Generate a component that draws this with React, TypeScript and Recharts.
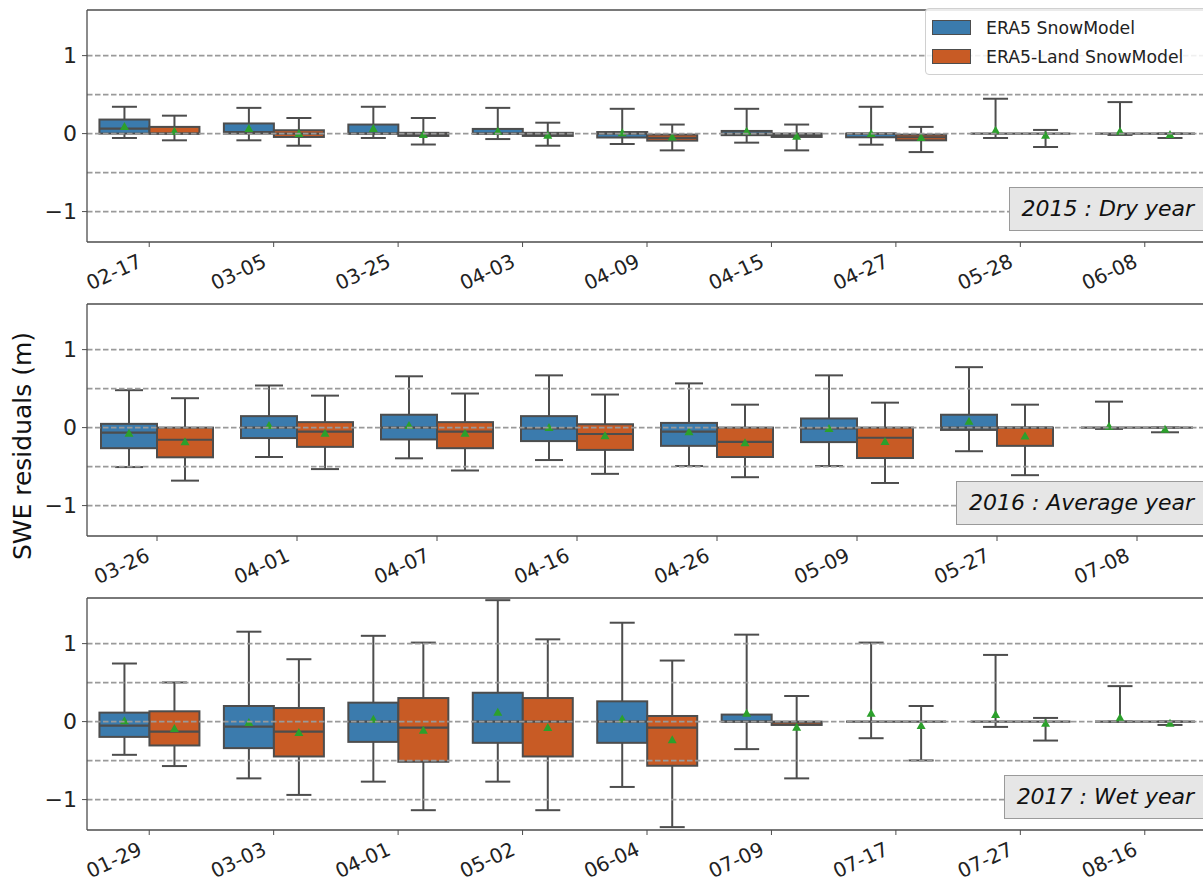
import React from 'react';
import { ComposedChart, Bar, XAxis, YAxis, ReferenceLine } from 'recharts';

// each entry: [whisker low, q1, median, q3, whisker high, mean]
type Stats = [number, number, number, number, number, number];

const seriesNames = ['ERA5 SnowModel', 'ERA5-Land SnowModel'];

const dates2015 = ['02-17', '03-05', '03-25', '04-03', '04-09', '04-15', '04-27', '05-28', '06-08'];
const era5_2015: Stats[] = [
  [-0.056, 0, 0.065, 0.18, 0.344, 0.09],
  [-0.086, 0, 0.02, 0.13, 0.33, 0.065],
  [-0.056, 0, 0, 0.116, 0.344, 0.065],
  [-0.07, 0, 0, 0.06, 0.33, 0.03],
  [-0.133, -0.05, 0, 0.02, 0.318, 0.01],
  [-0.116, -0.02, 0, 0.034, 0.318, 0.03],
  [-0.142, -0.047, 0, 0, 0.344, 0.0],
  [-0.056, 0, 0, 0, 0.447, 0.043],
  [-0.017, 0, 0, 0, 0.404, 0.03],
];
const land_2015: Stats[] = [
  [-0.086, 0, 0, 0.086, 0.23, 0.03],
  [-0.155, -0.043, 0, 0.043, 0.2, 0.0],
  [-0.14, -0.03, -0.01, 0.01, 0.2, -0.01],
  [-0.155, -0.03, -0.01, 0.01, 0.14, -0.02],
  [-0.215, -0.09, -0.056, -0.013, 0.116, -0.043],
  [-0.215, -0.043, -0.017, 0, 0.116, -0.034],
  [-0.237, -0.086, -0.047, -0.013, 0.086, -0.05],
  [-0.172, 0, 0, 0, 0.047, -0.02],
  [-0.056, 0, 0, 0, 0, -0.013],
];

const dates2016 = ['03-26', '04-01', '04-07', '04-16', '04-26', '05-09', '05-27', '07-08'];
const era5_2016: Stats[] = [
  [-0.506, -0.264, -0.065, 0.048, 0.48, -0.074],
  [-0.377, -0.134, 0, 0.147, 0.54, 0.026],
  [-0.394, -0.152, 0, 0.165, 0.658, 0.026],
  [-0.416, -0.173, -0.01, 0.147, 0.67, 0],
  [-0.493, -0.234, -0.052, 0.06, 0.567, -0.052],
  [-0.493, -0.186, -0.01, 0.117, 0.67, -0.01],
  [-0.303, -0.03, 0, 0.165, 0.775, 0.082],
  [-0.017, 0, 0, 0, 0.333, 0.017],
];
const land_2016: Stats[] = [
  [-0.68, -0.381, -0.156, 0, 0.377, -0.18],
  [-0.532, -0.247, -0.052, 0.07, 0.41, -0.074],
  [-0.55, -0.264, -0.052, 0.07, 0.437, -0.074],
  [-0.593, -0.286, -0.082, 0.043, 0.424, -0.104],
  [-0.636, -0.377, -0.182, 0, 0.294, -0.195],
  [-0.71, -0.39, -0.13, 0, 0.32, -0.177],
  [-0.61, -0.234, 0, 0, 0.294, -0.108],
  [-0.06, 0, 0, 0, 0, -0.02],
];

const dates2017 = ['01-29', '03-03', '04-01', '05-02', '06-04', '07-09', '07-17', '07-27', '08-16'];
const era5_2017: Stats[] = [
  [-0.426, -0.196, -0.051, 0.115, 0.745, 0.01],
  [-0.728, -0.34, -0.064, 0.2, 1.153, -0.01],
  [-0.77, -0.26, 0, 0.243, 1.1, 0.03],
  [-0.77, -0.272, 0, 0.37, 1.557, 0.12],
  [-0.838, -0.272, 0, 0.26, 1.268, 0.034],
  [-0.353, 0, 0, 0.09, 1.115, 0.106],
  [-0.213, 0, 0, 0, 1.013, 0.106],
  [-0.068, 0, 0, 0, 0.855, 0.09],
  [0, 0, 0, 0, 0.455, 0.05],
];
const land_2017: Stats[] = [
  [-0.57, -0.306, -0.128, 0.132, 0.502, -0.09],
  [-0.94, -0.447, -0.128, 0.174, 0.8, -0.14],
  [-1.136, -0.515, -0.077, 0.302, 1.013, -0.11],
  [-1.136, -0.447, 0, 0.302, 1.055, -0.077],
  [-1.353, -0.566, -0.077, 0.072, 0.783, -0.234],
  [-0.728, -0.043, -0.01, 0, 0.328, -0.072],
  [-0.498, 0, 0, 0, 0.2, -0.051],
  [-0.243, 0, 0, 0, 0.047, -0.02],
  [-0.043, 0, 0, 0, 0, -0.02],
];

const yTicks = [-1, 0, 1];
const hLines = [-1, -0.5, 0, 0.5, 1];
const yDomain: [number, number] = [-1.39, 1.585];

const FONT = '"DejaVu Sans", sans-serif';
const BLUE = '#3b7bad';
const ORANGE = '#c85b25';
const EDGE = '#4d4d4d';

function BoxShape(props: any) {
  const { x, y, width, height, stats, fill } = props;
  const [lo, q1, med, q3, hi, mean] = stats as Stats;
  const top = Math.min(y, y + height);
  const bot = Math.max(y, y + height);
  // bar spans [lo, hi] on the y scale, so map the other stats linearly inside it
  const k = (bot - top) / (hi - lo);
  const py = (v: number) => top + (hi - v) * k;
  const cx = x + width / 2;
  const cap = width / 4;
  const yq1 = py(q1);
  const yq3 = py(q3);
  const ym = py(mean);
  return (
    <g>
      <line x1={cx} x2={cx} y1={py(hi)} y2={yq3} stroke={EDGE} strokeWidth={2} />
      <line x1={cx} x2={cx} y1={yq1} y2={py(lo)} stroke={EDGE} strokeWidth={2} />
      <line x1={cx - cap} x2={cx + cap} y1={py(hi)} y2={py(hi)} stroke={EDGE} strokeWidth={2} />
      <line x1={cx - cap} x2={cx + cap} y1={py(lo)} y2={py(lo)} stroke={EDGE} strokeWidth={2} />
      {yq1 - yq3 > 0.5 && (
        <rect x={x} y={yq3} width={width} height={yq1 - yq3} fill={fill} stroke={EDGE} strokeWidth={2} />
      )}
      <line x1={x} x2={x + width} y1={py(med)} y2={py(med)} stroke={EDGE} strokeWidth={2.2} />
      <polygon
        points={`${cx},${ym - 4.5} ${cx - 4.5},${ym + 3.5} ${cx + 4.5},${ym + 3.5}`}
        fill="#2ca02c"
      />
    </g>
  );
}

function XTick(props: any) {
  const { x, y, payload } = props;
  return (
    <g transform={`translate(${x - 6},${y + 19}) rotate(-25)`}>
      <text textAnchor="end" fontSize={20} fontFamily={FONT} fill="#222">
        {payload.value}
      </text>
    </g>
  );
}

function LegendBox() {
  const colors = [BLUE, ORANGE];
  return (
    <div
      style={{
        position: 'absolute',
        top: 8,
        left: 925,
        width: 290,
        border: '1px solid #d0d0d0',
        borderRadius: 4,
        background: 'rgba(255,255,255,0.85)',
        padding: '4px 6px 3px 6px',
        fontFamily: FONT,
        fontSize: 17.3,
        color: '#222',
        boxSizing: 'border-box',
      }}
    >
      {seriesNames.map((name, i) => (
        <div key={name} style={{ display: 'flex', alignItems: 'center', height: 29 }}>
          <span
            style={{
              display: 'inline-block',
              width: 37,
              height: 13,
              background: colors[i],
              border: `1px solid ${EDGE}`,
              marginRight: 15,
            }}
          />
          {name}
        </div>
      ))}
    </div>
  );
}

function Panel({
  dates,
  era5,
  land,
  top,
  note,
  legend,
}: {
  dates: string[];
  era5: Stats[];
  land: Stats[];
  top: number;
  note: string;
  legend?: boolean;
}) {
  const rows = dates.map((d, i) => ({ date: d, era5: era5[i], land: land[i] }));
  return (
    <div style={{ position: 'absolute', left: 0, top, width: 1215, height: 294 }}>
      <ComposedChart
        width={1215}
        height={294}
        data={rows}
        margin={{ top: 10, right: 8, bottom: 0, left: 0 }}
        barCategoryGap="10%"
        barGap={0}
        style={{ overflow: 'visible' }}
      >
        <XAxis
          dataKey="date"
          interval={0}
          height={52}
          tickSize={5}
          tickMargin={0}
          tickLine={{ stroke: EDGE }}
          axisLine={{ stroke: EDGE, strokeWidth: 1.3 }}
          tick={<XTick />}
        />
        <YAxis
          type="number"
          domain={yDomain}
          allowDataOverflow
          ticks={yTicks}
          width={87}
          tickSize={5}
          tickMargin={5}
          tickLine={{ stroke: EDGE }}
          axisLine={{ stroke: EDGE, strokeWidth: 1.3 }}
          tick={{ fontSize: 22, fontFamily: FONT, fill: '#222' }}
          tickFormatter={(v: number) => (v < 0 ? `\u2212${Math.abs(v)}` : `${v}`)}
        />
        <Bar
          name={seriesNames[0]}
          dataKey={(r: any) => [r.era5[0], r.era5[4]]}
          fill={BLUE}
          isAnimationActive={false}
          shape={(p: any) => <BoxShape {...p} stats={p.payload.era5} fill={BLUE} />}
        />
        <Bar
          name={seriesNames[1]}
          dataKey={(r: any) => [r.land[0], r.land[4]]}
          fill={ORANGE}
          isAnimationActive={false}
          shape={(p: any) => <BoxShape {...p} stats={p.payload.land} fill={ORANGE} />}
        />
        {hLines.map((v) => (
          <ReferenceLine key={v} y={v} stroke="#9a9a9a" strokeWidth={1.6} strokeDasharray="5.5 2.5" />
        ))}
        {/* top spine */}
        <ReferenceLine y={yDomain[1]} stroke={EDGE} strokeWidth={1.3} />
      </ComposedChart>
      {legend && <LegendBox />}
      <div
        style={{
          position: 'absolute',
          top: 187,
          right: 8,
          height: 42,
          lineHeight: '42px',
          padding: '0 12px 0 12px',
          background: '#e6e6e6',
          border: '1.5px solid #9a9a9a',
          fontFamily: FONT,
          fontStyle: 'italic',
          fontSize: 22,
          color: '#111',
          whiteSpace: 'nowrap',
        }}
      >
        {note}
      </div>
    </div>
  );
}

export default function App() {
  return (
    <div
      style={{
        position: 'absolute',
        left: 0,
        top: 0,
        width: 1203,
        height: 884,
        overflow: 'hidden',
        background: '#fff',
      }}
    >
      <Panel dates={dates2015} era5={era5_2015} land={land_2015} top={0} note="2015 : Dry year" legend />
      <Panel dates={dates2016} era5={era5_2016} land={land_2016} top={294} note="2016 : Average year" />
      <Panel dates={dates2017} era5={era5_2017} land={land_2017} top={588} note="2017 : Wet year" />
      <svg style={{ position: 'absolute', left: 0, top: 0 }} width={50} height={884}>
        <text
          transform="translate(22,446) rotate(-90)"
          textAnchor="middle"
          dominantBaseline="central"
          fontSize={25}
          fontFamily={FONT}
          fill="#111"
        >
          SWE residuals (m)
        </text>
      </svg>
    </div>
  );
}
